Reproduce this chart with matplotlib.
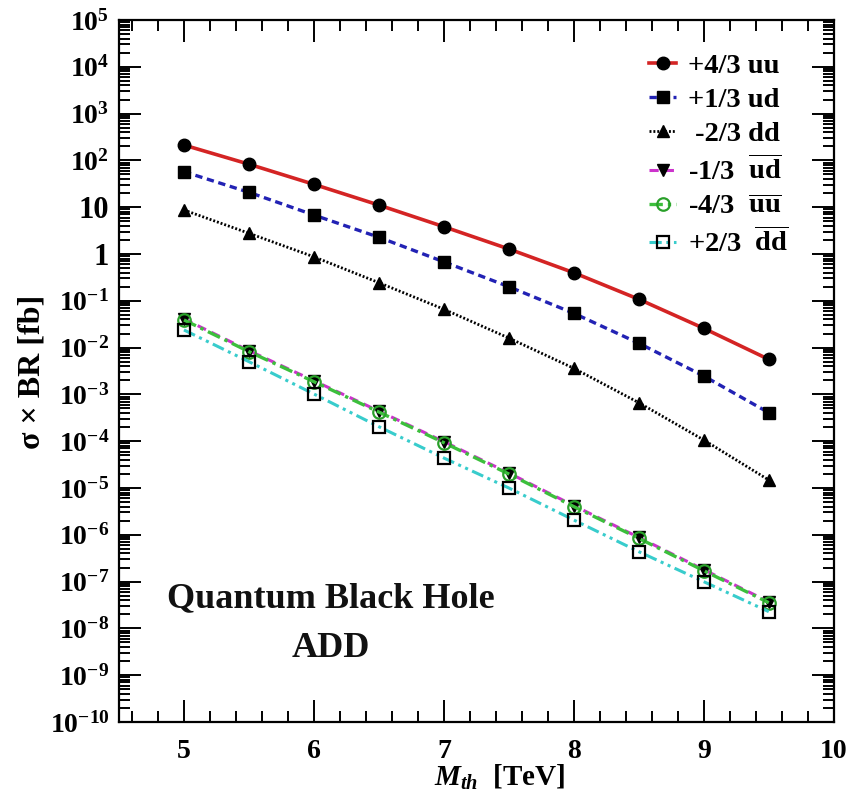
import numpy as np
import matplotlib
matplotlib.use("Agg")
import matplotlib.pyplot as plt
from matplotlib.ticker import FixedLocator, FixedFormatter, LogLocator, MultipleLocator, NullFormatter

plt.rcParams['font.family'] = ['Liberation Serif', 'DejaVu Serif']
plt.rcParams['font.weight'] = 'bold'
plt.rcParams['mathtext.fontset'] = 'custom'
plt.rcParams['mathtext.rm'] = 'Liberation Serif:bold'
plt.rcParams['mathtext.bf'] = 'Liberation Serif:bold'
plt.rcParams['mathtext.it'] = 'Liberation Serif:bold:italic'
plt.rcParams['mathtext.fallback'] = 'stix'

# Threshold mass [TeV]
m_th = [5.0, 5.5, 6.0, 6.5, 7.0, 7.5, 8.0, 8.5, 9.0, 9.5]

# sigma x BR [fb] for each charge / flavour state
uu_p43 = [213, 83, 30.8, 11.1, 3.83, 1.28, 0.398, 0.108, 0.0258, 0.0056]
ud_p13 = [57.4, 20.8, 6.8, 2.28, 0.68, 0.20, 0.054, 0.0124, 0.00247, 4.06e-4]
dd_m23 = [8.7, 2.77, 0.87, 0.244, 0.066, 0.016, 0.00361, 6.65e-4, 1.06e-4, 1.48e-5]
udbar_m13 = [0.041, 0.0086, 0.00196, 4.4e-4, 9.8e-5, 2.09e-5, 4.2e-6, 8.8e-7, 1.8e-7, 3.7e-8]
uubar_m43 = [0.039, 0.0082, 0.00187, 4.2e-4, 9.3e-5, 1.99e-5, 4.0e-6, 8.4e-7, 1.71e-7, 3.54e-8]
ddbar_p23 = [0.0238, 0.0050, 1.02e-3, 2.04e-4, 4.37e-5, 1.0e-5, 2.07e-6, 4.36e-7, 9.95e-8, 2.28e-8]

labels = [
    '+4/3 uu',
    '+1/3 ud',
    ' -2/3 dd',
    r'-1/3  $\overline{\mathrm{ud}}$',
    r'-4/3  $\overline{\mathrm{uu}}$',
    r'+2/3  $\overline{\mathrm{dd}}$',
]

y_exponents = list(range(-10, 6))
y_ticklabels = []
for e in y_exponents:
    if e == 0:
        y_ticklabels.append('1')
    elif e == 1:
        y_ticklabels.append('10')
    else:
        y_ticklabels.append(r'$10^{%d}$' % e)

x_ticks = [5, 6, 7, 8, 9, 10]
x_ticklabels = ['5', '6', '7', '8', '9', '10']

fig = plt.figure(figsize=(8.56, 7.94), dpi=100)
ax = fig.add_axes([0.139, 0.0907, 0.835, 0.8841])

ms = 9
ax.plot(m_th, uu_p43, color='#d42424', lw=2.6, ls='-', marker='o', ms=ms,
        mfc='black', mec='black', label=labels[0])
ax.plot(m_th, ud_p13, color='#2222b4', lw=2.4, ls=(0, (2.2, 1.4)), marker='s', ms=ms,
        mfc='black', mec='black', label=labels[1])
ax.plot(m_th, dd_m23, color='black', lw=2.0, ls=(0, (0.7, 0.7)), marker='^', ms=ms,
        mfc='black', mec='black', label=labels[2])
ax.plot(m_th, udbar_m13, color='#cc33cc', lw=2.2, ls=(0, (3, 2)), marker='v', ms=ms,
        mfc='black', mec='black', label=labels[3])
ax.plot(m_th, uubar_m43, color='#3cbf3c', lw=2.4, ls=(0, (4, 1.5, 1, 1.5)), marker='o', ms=ms,
        mfc='none', mec='#2aa02a', mew=1.6, label=labels[4])
ax.plot(m_th, ddbar_p23, color='#38cccc', lw=2.2, ls=(0, (4, 1.5, 1, 1.5, 1, 1.5)), marker='s', ms=ms,
        mfc='none', mec='black', mew=1.6, label=labels[5])

ax.set_yscale('log')
ax.set_xlim(4.5, 10)
ax.set_ylim(1e-10, 1e5)

ax.yaxis.set_major_locator(FixedLocator([10.0 ** e for e in y_exponents]))
ax.yaxis.set_major_formatter(FixedFormatter(y_ticklabels))
ax.yaxis.set_minor_locator(LogLocator(base=10, subs=np.arange(2, 10), numticks=100))
ax.yaxis.set_minor_formatter(NullFormatter())
ax.set_xticks(x_ticks)
ax.set_xticklabels(x_ticklabels)
ax.xaxis.set_minor_locator(MultipleLocator(0.2))

ax.tick_params(which='both', direction='in', top=True, right=True, width=1.4, color='black')
ax.tick_params(which='major', length=16)
ax.tick_params(which='minor', length=8)
ax.tick_params(axis='y', which='major', labelsize=20, pad=7)
ax.tick_params(axis='x', which='major', labelsize=20, pad=12)
for spine in ax.spines.values():
    spine.set_linewidth(1.6)

for lab in ax.get_yticklabels():
    if lab.get_text() in ('1', '10'):
        lab.set_fontsize(22)

ax.text(0.533, -0.079, r'$M_{th}$  [TeV]', transform=ax.transAxes, ha='center', va='center',
        fontsize=21, fontweight='bold')
fig.text(0.037, 0.532, 'σ × BR [fb]', rotation=90, ha='center', va='center',
         fontsize=23, fontweight='bold')

ax.text(0.296, 0.176, 'Quantum Black Hole', transform=ax.transAxes, ha='center', va='center',
        fontsize=26, fontweight='bold', color='#111111')
ax.text(0.296, 0.104, 'ADD', transform=ax.transAxes, ha='center', va='center',
        fontsize=26, fontweight='bold', color='#111111')

leg = ax.legend(loc='upper left', bbox_to_anchor=(0.742, 0.953), frameon=False,
                prop={'family': 'Liberation Serif', 'weight': 'bold', 'size': 20.5},
                handlelength=0.95, handletextpad=0.4, labelspacing=0.29,
                borderaxespad=0.0, borderpad=0.0)

fig.savefig('out.png', dpi=100)
